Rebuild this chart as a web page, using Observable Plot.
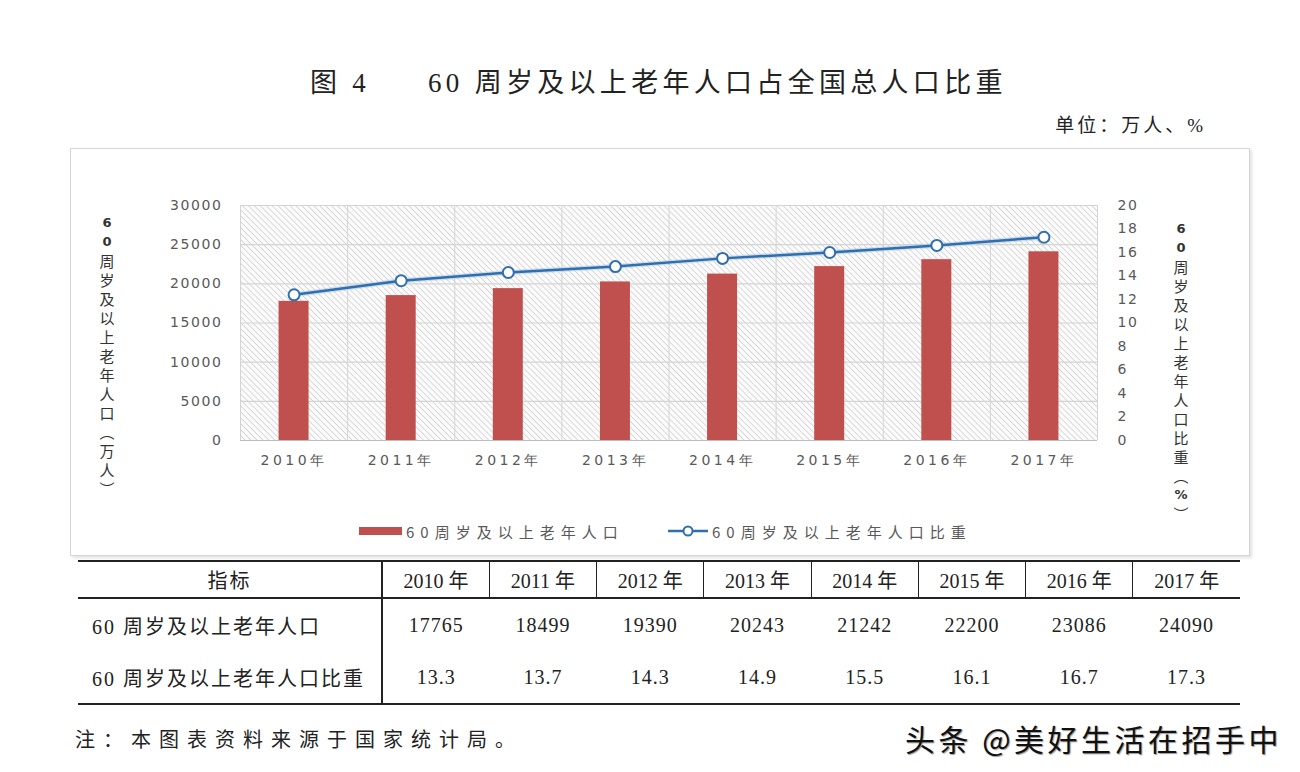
<!DOCTYPE html>
<html>
<head>
<meta charset="utf-8">
<script src="https://cdn.jsdelivr.net/npm/d3@7"></script>
<script src="https://cdn.jsdelivr.net/npm/@observablehq/plot@0.6"></script>
<style>
  html, body { margin: 0; padding: 0; background: #fff; }
  #page { position: relative; width: 1300px; height: 772px; overflow: hidden; background: #fff;
          font-family: "Liberation Serif", "Noto Sans CJK SC", serif; color: #222; }
  .abs { position: absolute; white-space: nowrap; }
  #chartbox { position: absolute; left: 70px; top: 148px; width: 1178px; height: 406px;
              border: 1px solid #d6d6d6; box-shadow: 2px 2px 3px rgba(0,0,0,0.12); background: #fff; }
  #plotwrap { position: absolute; left: 0; top: 148px; }
  .vtitle { position: absolute; display: flex; flex-direction: column; align-items: center;
            font-family: "Noto Sans CJK SC", sans-serif; font-size: 15px; color: #333; line-height: 19px; }
  .vtitle span.d { font-family: "DejaVu Sans", sans-serif; font-weight: bold; font-size: 13px; }
  #legend { position: absolute; top: 520px; left: 0; height: 22px; font-family: "Noto Sans CJK SC", sans-serif;
            font-size: 15px; color: #595959; letter-spacing: 6px; white-space: nowrap; }
  #legend .item { position: absolute; top: 0; display: flex; align-items: center; height: 22px; white-space: nowrap; }
  #legend .item span { white-space: nowrap; }
  table#data { position: absolute; left: 78px; top: 560px; width: 1162px; border-collapse: collapse; table-layout: fixed;
               font-family: "Liberation Serif", "Noto Sans CJK SC", serif; font-size: 20px; color: #222; }
  table#data td, table#data th { padding: 0; text-align: center; font-weight: normal; white-space: nowrap; }
  table#data tr.h th { height: 35px; border-top: 2px solid #222; border-bottom: 2px solid #222; }
  table#data tr.h th + th { border-left: 1px solid #222; }
  table#data th.first, table#data td.first { border-right: 2px solid #222 !important; }
  table#data td.first { text-align: left; padding-left: 14px; letter-spacing: 2px; }
  table#data tr.r1 td { height: 53px; padding-bottom: 2px; }
  table#data tr.r2 td { height: 47px; padding-bottom: 2px; border-bottom: 2px solid #222; }
  table#data td.num { letter-spacing: 1px; }
</style>
</head>
<body>
<div id="page">
  <div class="abs" style="left:310px; top:61px; font-size:27px; letter-spacing:4.3px;">图 4</div>
  <div class="abs" style="left:428px; top:61px; font-size:27px; letter-spacing:4.3px;">60 周岁及以上老年人口占全国总人口比重</div>
  <div class="abs" style="right:94px; top:110px; font-size:19px; letter-spacing:3px;">单位：万人、%</div>
  <div id="chartbox"></div>
  <div id="plotwrap"></div>
  <div id="ltitle" class="vtitle" style="left:97px; top:213px; width:20px;"></div>
  <div id="rtitle" class="vtitle" style="left:1171px; top:219px; width:20px;"></div>
  <div id="legend"></div>
  <table id="data"></table>
  <div class="abs" style="left:75px; top:724px; font-size:20px; letter-spacing:8px; font-family:'Noto Sans CJK SC',sans-serif;">注：本图表资料来源于国家统计局。</div>
  <div class="abs" style="left:905px; top:716px; font-size:30px; letter-spacing:3.5px; color:#111; font-family:'Noto Sans CJK SC',sans-serif; text-shadow:1px 1px 1px #999;">头条 @美好生活在招手中</div>
</div>
<script>
// ---- data ----
const years = ["2010年", "2011年", "2012年", "2013年", "2014年", "2015年", "2016年", "2017年"];
const tableYears = ["2010 年", "2011 年", "2012 年", "2013 年", "2014 年", "2015 年", "2016 年", "2017 年"];
const population = [17765, 18499, 19390, 20243, 21242, 22200, 23086, 24090];
const shareTable = [13.3, 13.7, 14.3, 14.9, 15.5, 16.1, 16.7, 17.3];
const sharePlotted = [12.4, 13.6, 14.3, 14.8, 15.5, 16.0, 16.6, 17.3];
const leftTicks = [0, 5000, 10000, 15000, 20000, 25000, 30000];
const rightTicks = [0, 2, 4, 6, 8, 10, 12, 14, 16, 18, 20];
const seriesNames = ["60周岁及以上老年人口", "60周岁及以上老年人口比重"];
const rowLabels = ["指标", "60 周岁及以上老年人口", "60 周岁及以上老年人口比重"];
const leftTitle = ["6", "0", "周", "岁", "及", "以", "上", "老", "年", "人", "口", "︵", "万", "人", "︶"];
const rightTitle = ["6", "0", "周", "岁", "及", "以", "上", "老", "年", "人", "口", "比", "重", "︵", "%", "︶"];

const ratio = 30000 / 20; // right axis (percent) mapped onto left axis range
const rows = years.map((y, i) => ({i, year: y, pop: population[i], share: sharePlotted[i]}));

const barColor = "#c0504d";
const lineColor = "#2f6fae";
const gridColor = "#d4d4d4";

const chart = Plot.plot({
  width: 1300,
  height: 407,
  marginLeft: 240,
  marginRight: 203,
  marginTop: 57,
  marginBottom: 115,
  style: {fontFamily: "DejaVu Sans, sans-serif", fontSize: "14px", background: "transparent", overflow: "visible"},
  x: {domain: [0, 8], axis: null},
  y: {domain: [0, 30000], axis: null},
  marks: [
    Plot.frame({fill: "#eeeeee", stroke: "none"}),
    Plot.ruleY(leftTicks, {stroke: gridColor, strokeWidth: 1.2}),
    Plot.ruleX(d3.range(0, 9), {stroke: gridColor, strokeWidth: 1}),
    Plot.ruleY([0], {stroke: "#bdbdbd", strokeWidth: 1}),
    Plot.rectY(rows, {x1: d => d.i + 0.36, x2: d => d.i + 0.64, y1: 0, y2: "pop", fill: barColor}),
    Plot.line(rows, {x: d => d.i + 0.5, y: d => d.share * ratio, stroke: "#a9c8ea", strokeWidth: 5, strokeOpacity: 0.5}),
    Plot.line(rows, {x: d => d.i + 0.5, y: d => d.share * ratio, stroke: lineColor, strokeWidth: 2.5}),
    Plot.dot(rows, {x: d => d.i + 0.5, y: d => d.share * ratio, r: 5.5, fill: "white", stroke: lineColor, strokeWidth: 2}),
    Plot.axisY(leftTicks, {anchor: "left", tickSize: 0, tickPadding: 18, fill: "#595959", fontSize: 14, label: null, tickFormat: d => String(d)}),
    Plot.axisY(rightTicks.map(t => t * ratio), {anchor: "right", tickSize: 0, tickPadding: 20, fill: "#595959", fontSize: 14, label: null, tickFormat: d => String(d / ratio)}),
    Plot.axisX(d3.range(8).map(i => i + 0.5), {anchor: "bottom", tickSize: 0, tickPadding: 15, fill: "#595959", fontSize: 14, label: null, tickFormat: d => years[Math.floor(d)]})
  ]
});

// hatch pattern for the plot area background
chart.insertAdjacentHTML("afterbegin",
  '<defs><pattern id="hatch" width="4.2" height="4.2" patternUnits="userSpaceOnUse" patternTransform="rotate(-45)">' +
  '<rect width="4.2" height="4.2" fill="#fbfbfb"></rect>' +
  '<line x1="0" y1="0" x2="0" y2="4.2" stroke="#c9c9c9" stroke-width="1.3"></line></pattern></defs>');
d3.select(chart).select('[aria-label="frame"]').attr("fill", "url(#hatch)").selectAll("rect").attr("fill", "url(#hatch)");
d3.select(chart).selectAll('[aria-label="y-axis tick label"] text').style("letter-spacing", "1.6px");
d3.select(chart).selectAll('[aria-label="x-axis tick label"] text').style("letter-spacing", "3.5px");
document.getElementById("plotwrap").appendChild(chart);

// vertical axis titles
function vtitle(id, chars) {
  const el = document.getElementById(id);
  chars.forEach(c => {
    const s = document.createElement("span");
    if (/[0-9%]/.test(c)) s.className = "d";
    s.textContent = c;
    el.appendChild(s);
  });
}
vtitle("ltitle", leftTitle);
vtitle("rtitle", rightTitle);

// legend
const legend = document.getElementById("legend");
legend.innerHTML =
  `<div class="item" style="left:359px;"><svg width="44" height="22"><rect x="0" y="7" width="43" height="8" fill="${barColor}"/></svg><span style="margin-left:3px">${seriesNames[0]}</span></div>` +
  `<div class="item" style="left:668px;"><svg width="42" height="22"><line x1="0" y1="11" x2="40" y2="11" stroke="${lineColor}" stroke-width="2.5"/><circle cx="20" cy="11" r="4.5" fill="white" stroke="${lineColor}" stroke-width="2"/></svg><span style="margin-left:2px">${seriesNames[1]}</span></div>`;

// table
const table = document.getElementById("data");
let html = `<colgroup><col style="width:304px">` + tableYears.map(() => `<col style="width:107.25px">`).join("") + `</colgroup>`;
html += `<tr class="h"><th class="first" style="letter-spacing:2px">${rowLabels[0]}</th>` +
  tableYears.map(y => `<th>${y}</th>`).join("") + "</tr>";
html += `<tr class="r1"><td class="first">${rowLabels[1]}</td>` + population.map(v => `<td class="num">${v}</td>`).join("") + "</tr>";
html += `<tr class="r2"><td class="first">${rowLabels[2]}</td>` + shareTable.map(v => `<td class="num">${v.toFixed(1)}</td>`).join("") + "</tr>";
table.innerHTML = html;
</script>
</body>
</html>
